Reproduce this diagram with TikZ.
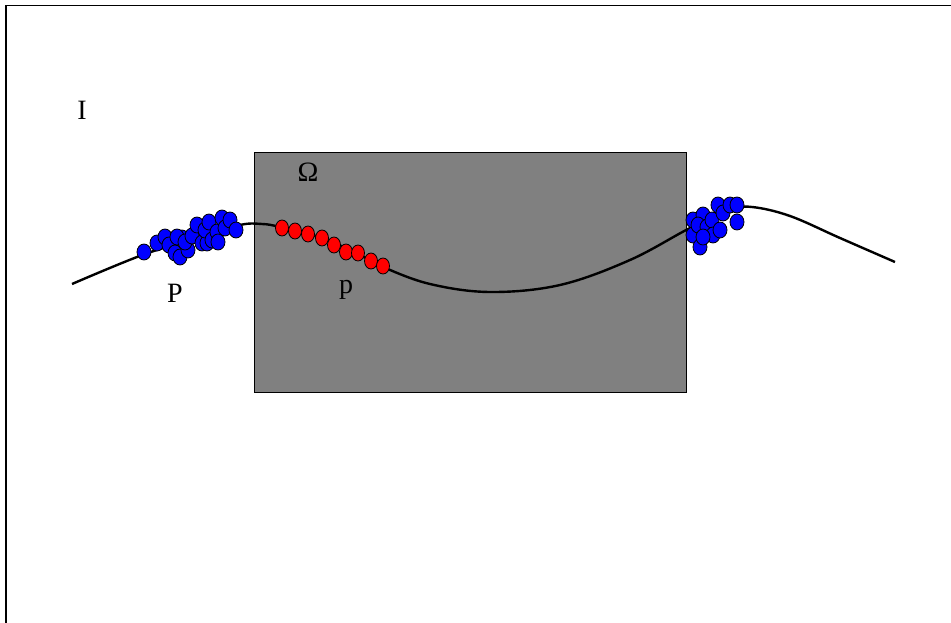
\documentclass[tikz,border=0pt]{standalone}
\usepackage{fontspec}
\setmainfont{Liberation Serif}
\begin{document}
\begin{tikzpicture}[x=1pt,y=-1pt,
  bluedot/.style={fill={rgb,255:red,0;green,0;blue,255},draw=black,line width=0.8pt},
  reddot/.style={fill={rgb,255:red,255;green,0;blue,0},draw=black,line width=0.8pt},
  lbl/.style={font=\fontsize{28}{28}\selectfont,inner sep=0pt}]
\useasboundingbox (0,0) rectangle (951,623);
\fill[white] (0,0) rectangle (951,623);
% frame (top and left edges)
\draw[line width=1.2pt] (6,623) -- (6,5.5) -- (951,5.5);
% domain rectangle
\draw[fill={rgb,255:red,128;green,128;blue,128},line width=0.8pt] (254,152) rectangle (686,392);
% curve
\draw[line width=2.4pt] plot[smooth,tension=0.6] coordinates {(72,284) (145,254) (200,238) (240,225) (262,224) (280,227) (322,238) (358,254) (383,267) (430,284) (490,292) (560,285) (630,260) (690,228) (730,210) (752,207) (790,216) (840,238) (895,262)};
% left blue cluster
\foreach \x/\y in {144/252,157/243,165/237,169/245,175/253,180/257,182/238,177/237,188/250,185/242,192/236,202/243,197/225,207/243,205/230,209/222,212/240,217/232,218/242,222/218,225/228,230/220,236/230}
  \draw[bluedot] (\x,\y) ellipse [x radius=7,y radius=8];
% right blue cluster
\foreach \x/\y in {693/220,693/235,700/247,703/215,698/225,707/227,712/220,713/235,703/237,720/230,718/205,723/213,730/205,737/205,737/222}
  \draw[bluedot] (\x,\y) ellipse [x radius=7,y radius=8];
% red dots
\foreach \x/\y in {282/228,295/231,308/234,322/238,334/245,346/252,358/253,371/261,383/266}
  \draw[reddot] (\x,\y) ellipse [x radius=6.5,y radius=8];
% labels
\node[lbl] (I) at (82,110) {I};
\node[lbl] (Om) at (308,172) {Ω};
\node[lbl] (P) at (175,293) {P};
\node[lbl] (p) at (346,290) {p};
\end{tikzpicture}
\end{document}
